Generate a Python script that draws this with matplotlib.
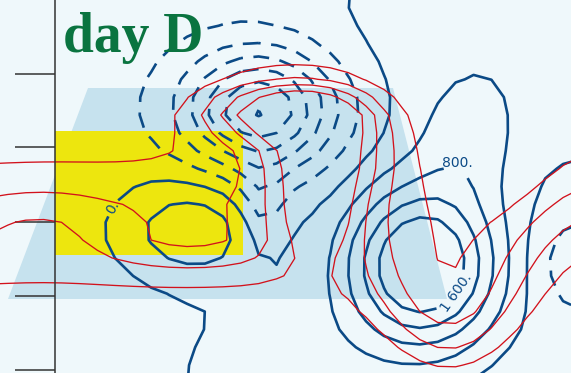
import numpy as np
import matplotlib
matplotlib.use('Agg')
import matplotlib.pyplot as plt
from matplotlib.patches import Polygon, Rectangle

# chart frame (x to the right, y downward, same units as the picture)
x_max, y_max = 571, 373
axis_x = 55
tick_y = [74, 147, 222, 296, 370]

# shaded zones
trap_x = [88, 393, 447, 8]
trap_y = [88, 88, 299, 299]
box_x = [55, 243]
box_y = [131, 255]

# blue field: bumps (x, y, amplitude, spread x, spread y)
blue_cx = [422, 468, 560, 192, 270, 260, 262, 578]
blue_cy = [266, 140, 40, 230, 380, 108, 205, 262]
blue_amp = [2500, 550, 600, 930, 500, -2300, -550, -480]
blue_sx = [54, 33, 180, 53, 70, 53, 16, 34]
blue_sy = [58, 40, 90, 37, 60, 42, 32, 34]
blue_base = -250
blue_neg_levels = [-2400, -2000, -1600, -1200, -800, -400]
blue_pos_levels = [400, 1200]

# red field bumps
red_cx = [300, 290, 300, 230, 325, 318, 40, 190, 448, 500, 600]
red_cy = [900, 95, 113, 112, 150, 215, 222, 245, 320, 150, 240]
red_amp = [25, 2.0, 3.5, 1.0, 3.6, 2.5, 0.8, -1.1, -3.3, -1.2, 1.0]
red_sx = [2000, 70, 45, 40, 45, 32, 50, 60, 55, 40, 50]
red_sy = [400, 40, 16, 20, 35, 35, 25, 20, 74, 50, 60]
red_base = -3.58
red_levels = [1, 2, 3, 4]

# labelled blue contours
label_levels = [0, 800, 1600]
label_txt = ['0.', '800.', '1 600.']
label_x = [113, 465, 477]
label_y = [208, 157, 302]


def field(cx, cy, amp, sx, sy, base, X, Y):
    z = np.full(X.shape, float(base))
    for a, b, c, d, e in zip(cx, cy, amp, sx, sy):
        z += c * np.exp(-((X - a) ** 2 / (2 * d ** 2) + (Y - b) ** 2 / (2 * e ** 2)))
    return z


gx = np.linspace(-10, x_max + 10, 34)
gy = np.linspace(-10, y_max + 10, 23)
X, Y = np.meshgrid(gx, gy)
zb = field(blue_cx, blue_cy, blue_amp, blue_sx, blue_sy, blue_base, X, Y)
zr = field(red_cx, red_cy, red_amp, red_sx, red_sy, red_base, X, Y)

blue = '#0b4a86'
red = '#d2121c'

fig = plt.figure(figsize=(5.71, 3.73), dpi=100)
fig.patch.set_facecolor('#eff8fb')
ax = fig.add_axes([0, 0, 1, 1])
ax.set_facecolor('#eff8fb')
ax.set_xlim(0, x_max)
ax.set_ylim(y_max, 0)

ax.add_patch(Polygon(list(zip(trap_x, trap_y)), closed=True, facecolor='#c6e2ee', edgecolor='none', zorder=1))
ax.add_patch(Rectangle((box_x[0], box_y[0]), box_x[1] - box_x[0], box_y[1] - box_y[0],
                       facecolor='#ede60e', edgecolor='none', zorder=1.2))

ax.contour(X, Y, zb, levels=blue_neg_levels, colors=blue, linewidths=1.9,
           linestyles=[(0, (6, 4))], zorder=3)
ax.contour(X, Y, zb, levels=blue_pos_levels, colors=blue, linewidths=1.9,
           linestyles='solid', zorder=3)
for lev, txt, lx, ly in zip(label_levels, label_txt, label_x, label_y):
    cs = ax.contour(X, Y, zb, levels=[lev], colors=blue, linewidths=1.9,
                    linestyles='solid', zorder=3)
    labels = ax.clabel(cs, manual=[(lx, ly)], fmt={lev: txt}, fontsize=10, colors=blue,
                       inline=True, inline_spacing=3)
    if lev == 800:
        for t in labels:
            t.set_rotation(0)
ax.contour(X, Y, zr, levels=red_levels, colors=red, linewidths=0.95, zorder=4)

ax.text(63, 52, 'day D', family='Liberation Serif', weight='bold', fontsize=40,
        color='#0a7440', zorder=5)

for side in ['top', 'right', 'bottom']:
    ax.spines[side].set_visible(False)
ax.spines['left'].set_position(('data', axis_x))
ax.spines['left'].set_color('#333333')
ax.spines['left'].set_linewidth(1.1)
ax.spines['left'].set_zorder(5)
ax.set_yticks(tick_y)
ax.set_yticklabels([])
ax.set_xticks([])
ax.tick_params(axis='y', direction='out', length=29, width=1.1, color='#333333')

fig.savefig('out.png', dpi=100, facecolor=fig.get_facecolor())
